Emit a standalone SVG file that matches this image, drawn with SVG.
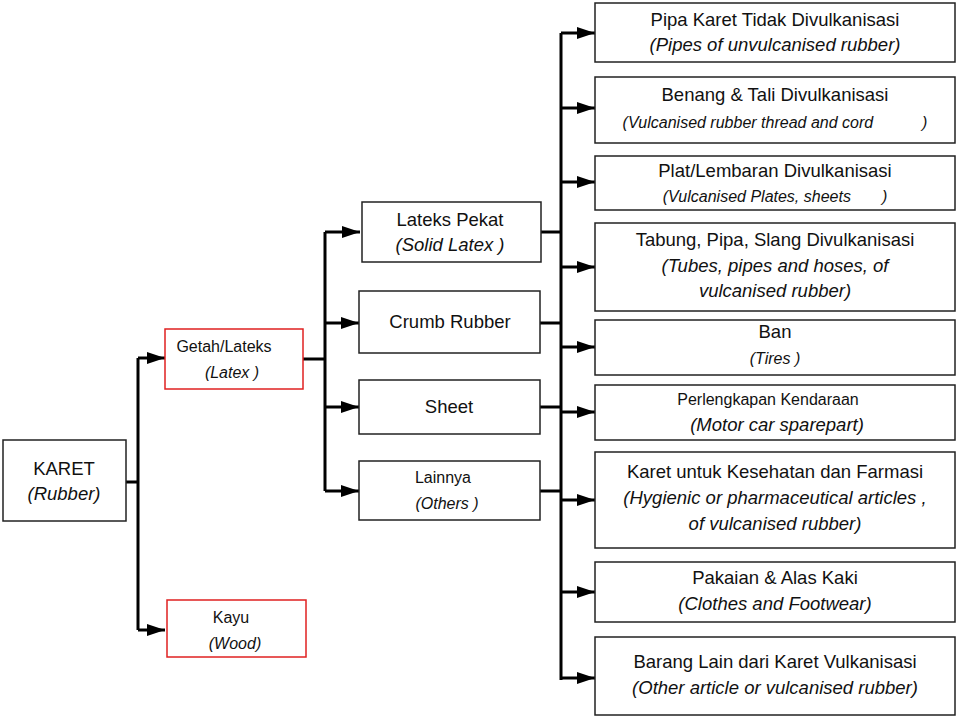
<svg xmlns="http://www.w3.org/2000/svg" width="960" height="720" viewBox="0 0 960 720">
<style>
.b{fill:#fff;stroke:#222;stroke-width:1.5}
.r{fill:#fff;stroke:#e02020;stroke-width:1.5}
text{font-family:"Liberation Sans",Arial,sans-serif;font-size:18.5px;fill:#111;text-anchor:middle;white-space:pre}
.i{font-style:italic}
.s{font-size:16px}
.c{stroke:#000;stroke-width:3;fill:none}
</style>
<defs>
<marker id="A" viewBox="0 0 10 10" refX="10" refY="5" markerWidth="18" markerHeight="12" orient="auto" markerUnits="userSpaceOnUse" preserveAspectRatio="none"><path d="M0,0L10,5L0,10z" fill="#000"/></marker></defs>
<g id="connectors">
<path class="c" d="M126,482H138M138,358V630"/>
<path class="c" d="M138,358H165" marker-end="url(#A)"/>
<path class="c" d="M138,630H165" marker-end="url(#A)"/>
<path class="c" d="M303,359H325M325,232V491"/>
<path class="c" d="M325,232H360" marker-end="url(#A)"/>
<path class="c" d="M325,323H359" marker-end="url(#A)"/>
<path class="c" d="M325,407H359" marker-end="url(#A)"/>
<path class="c" d="M325,491H359" marker-end="url(#A)"/>
<path class="c" d="M541,232H561M540,323H561M540,407H561M540,491H561M561,33V680"/>
<path class="c" d="M561,33H595" marker-end="url(#A)"/>
<path class="c" d="M561,108H595" marker-end="url(#A)"/>
<path class="c" d="M561,182H595" marker-end="url(#A)"/>
<path class="c" d="M561,267H595" marker-end="url(#A)"/>
<path class="c" d="M561,347H595" marker-end="url(#A)"/>
<path class="c" d="M561,412H595" marker-end="url(#A)"/>
<path class="c" d="M561,500H595" marker-end="url(#A)"/>
<path class="c" d="M561,592H595" marker-end="url(#A)"/>
<path class="c" d="M561,678H595" marker-end="url(#A)"/>
</g>
<g id="karet"><rect class="b" x="3" y="440" width="123" height="81"/><text x="64" y="475">KARET</text><text class="i" x="64" y="500">(Rubber)</text></g>
<g id="getah"><rect class="r" x="165" y="329" width="138" height="60"/><text class="s" x="224" y="352">Getah/Lateks</text><text class="s i" x="232" y="378">(Latex )</text></g>
<g id="kayu"><rect class="r" x="167" y="600" width="139" height="57"/><text class="s" x="231" y="623">Kayu</text><text class="s i" x="235" y="649">(Wood)</text></g>
<g id="lateks"><rect class="b" x="362" y="202" width="179" height="60"/><text x="450" y="226">Lateks Pekat</text><text class="i" x="450" y="251">(Solid Latex )</text></g>
<g id="crumb"><rect class="b" x="359" y="291" width="181" height="62"/><text x="450" y="328">Crumb Rubber</text></g>
<g id="sheet"><rect class="b" x="359" y="380" width="181" height="54"/><text x="449" y="413">Sheet</text></g>
<g id="lainnya"><rect class="b" x="359" y="461" width="181" height="59"/><text class="s" x="443" y="483">Lainnya</text><text class="s i" x="447" y="509">(Others )</text></g>
<g id="r1"><rect class="b" x="595" y="3" width="360" height="59"/><text x="775" y="26">Pipa Karet Tidak Divulkanisasi</text><text class="i" x="775" y="51">(Pipes of unvulcanised rubber)</text></g>
<g id="r2"><rect class="b" x="595" y="77" width="360" height="66"/><text x="775" y="101">Benang &amp; Tali Divulkanisasi</text><text class="i s" x="775" y="128">(Vulcanised rubber thread and cord           )</text></g>
<g id="r3"><rect class="b" x="595" y="156" width="360" height="54"/><text x="775" y="177">Plat/Lembaran Divulkanisasi</text><text class="i s" x="775" y="202">(Vulcanised Plates, sheets       )</text></g>
<g id="r4"><rect class="b" x="595" y="223" width="360" height="88"/><text x="775" y="246">Tabung, Pipa, Slang Divulkanisasi</text><text class="i" x="775" y="272">(Tubes, pipes and hoses, of</text><text class="i" x="775" y="297">vulcanised rubber)</text></g>
<g id="r5"><rect class="b" x="595" y="320" width="360" height="55"/><text x="775" y="338">Ban</text><text class="i s" x="775" y="364">(Tires )</text></g>
<g id="r6"><rect class="b" x="595" y="385" width="360" height="55"/><text class="s" x="768" y="405">Perlengkapan Kendaraan</text><text class="i" x="777" y="431">(Motor car sparepart)</text></g>
<g id="r7"><rect class="b" x="595" y="452" width="360" height="96"/><text x="775" y="478">Karet untuk Kesehatan dan Farmasi</text><text class="i" x="775" y="504">(Hygienic or pharmaceutical articles ,</text><text class="i" x="775" y="530">of vulcanised rubber)</text></g>
<g id="r8"><rect class="b" x="595" y="562" width="360" height="60"/><text x="775" y="584">Pakaian &amp; Alas Kaki</text><text class="i" x="775" y="610">(Clothes and Footwear)</text></g>
<g id="r9"><rect class="b" x="595" y="637" width="360" height="78"/><text x="775" y="668">Barang Lain dari Karet Vulkanisasi</text><text class="i" x="775" y="694">(Other article or vulcanised rubber)</text></g>
</svg>
